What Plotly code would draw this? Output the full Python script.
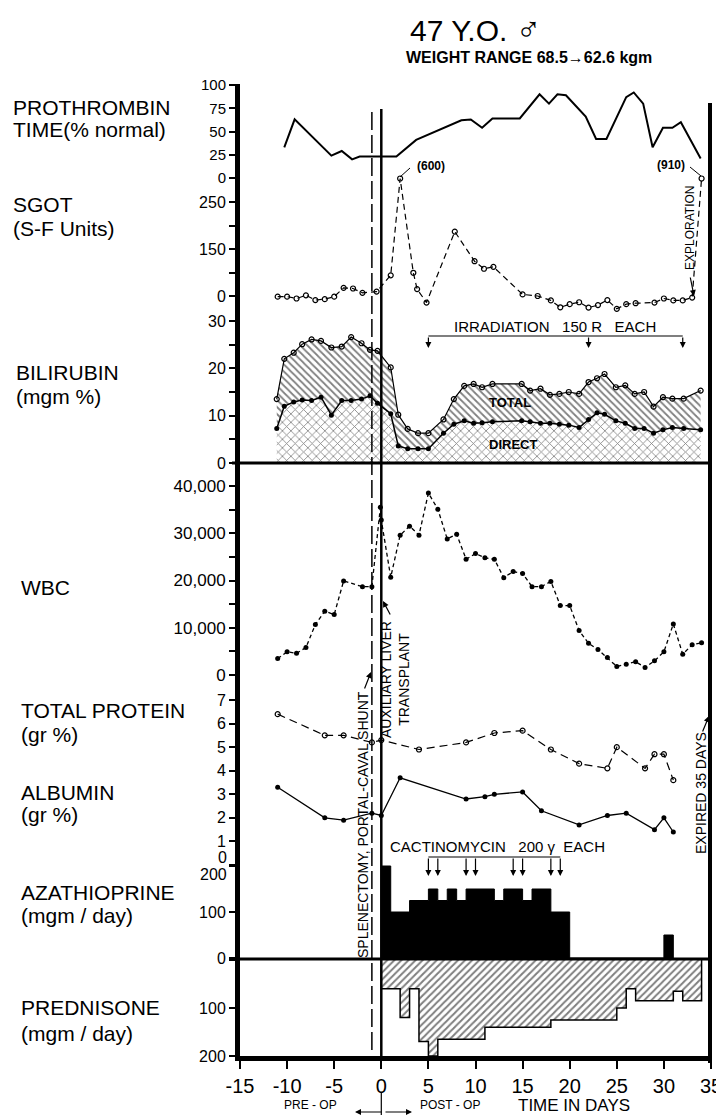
import plotly.graph_objects as go

# ---------------- data ----------------
x_ticks = [-15, -10, -5, 0, 5, 10, 15, 20, 25, 30, 35]
x_labels = ["-15", "-10", "-5", "0", "5", "10", "15", "20", "25", "30", "35"]

# Prothrombin time (% normal)
pt_day = [-10.3, -9.2, -5.3, -4.2, -3.1, -2.3, 1.6, 3.7, 8.5, 9.5, 10.7, 11.8, 14.7, 16.8,
          17.8, 18.7, 19.6, 21.7, 22.8, 23.9, 26.0, 26.8, 27.8, 28.8, 29.9, 30.9, 31.8, 33.9]
pt_val = [33, 63, 24, 29, 20, 23, 23, 41, 62, 63, 54, 64, 64, 90,
          80, 90, 89, 66, 42, 42, 87, 92, 80, 33, 54, 54, 60, 21]

# SGOT (S-F units) -- drawn on a broken scale, 600 and 910 shown at the top
sgot_day = [-11, -10, -9, -8, -7, -6, -5, -4, -3, -2, -0.5, 1, 2, 3.4, 3.8, 4.8, 7.8, 9.9,
            10.9, 11.9, 15, 16.6, 18, 19, 20, 21, 22, 23, 24, 25, 26, 27, 29, 30, 31, 32, 33, 34]
sgot_val = [-2, -2, -8, 2, -13, -10, -2, 26, 24, 10, 14, 66, 600, 74, 22, -21, 187, 111,
            87, 93, 5, 0, -14, -36, -26, -20, -37, -29, -13, -41, -26, -23, -21, -8, -14, -14, -5, 910]
sgot_ticks = [0, 1, 2, 3, 4]
sgot_labels = ["0", "", "150", "", "250"]

# Bilirubin (mgm %)
bili_day = [-11.1, -10.3, -9.3, -8.4, -7.4, -6.4, -5.3, -4.2, -3.2, -2.1, -1.2, -0.4, 1.0, 1.8,
            2.8, 3.9, 5.0, 6.6, 7.7, 8.8, 9.8, 10.7, 11.8, 14.9, 15.8, 16.9, 17.9, 18.9, 19.9,
            21.0, 22.0, 22.9, 23.7, 24.9, 25.9, 26.9, 27.9, 28.9, 29.9, 30.9, 32.1, 33.9]
bili_total = [13.5, 22.0, 23.3, 25.1, 26.1, 25.8, 24.4, 24.6, 26.6, 25.3, 23.9, 23.7, 20.2, 10.2,
              7.2, 6.3, 6.3, 9.2, 13.5, 16.3, 16.7, 16.0, 16.7, 16.7, 15.3, 15.7, 14.4, 14.6, 15.0,
              14.6, 17.1, 17.9, 18.8, 16.0, 16.4, 14.6, 15.0, 11.9, 13.9, 13.6, 13.6, 15.3]
bili_direct = [7.3, 12.0, 12.9, 13.3, 13.2, 13.9, 10.1, 13.2, 13.2, 13.5, 14.2, 12.6, 10.4, 3.6,
               3.0, 3.0, 3.0, 6.3, 8.2, 8.9, 8.4, 8.5, 8.7, 8.9, 8.7, 8.4, 8.4, 8.2, 8.0,
               7.5, 9.2, 10.6, 10.3, 8.9, 8.4, 7.3, 7.3, 6.3, 7.0, 7.5, 7.3, 7.0]

# WBC
wbc_day = [-11, -10, -9, -8, -7, -6, -5, -4, -2, -1, -0.1, 0, 1, 2, 3, 4, 5, 6, 7, 8, 9, 10,
           11, 12, 13, 14, 15, 16, 17, 18, 19, 20, 21, 22, 23, 24, 25, 26, 27, 28, 29, 30,
           31, 32, 33, 34]
wbc_val = [3500, 4900, 4600, 5800, 10700, 13500, 12800, 19900, 18700, 18700, 35500, 32800,
           20700, 29600, 31500, 29600, 38500, 35100, 28800, 29800, 24500, 25700, 24800, 24500,
           20600, 21900, 21500, 18700, 18700, 19800, 14700, 14700, 9400, 6700, 5400, 3700,
           1800, 2300, 2800, 1600, 3000, 4900, 10800, 4400, 6400, 6800]

# Total protein and albumin (gr %)
prot_day = [-11, -6, -4, -1, 0, 4, 9, 12, 15, 18, 21, 24, 25, 28, 29, 30, 31]
prot_val = [6.4, 5.5, 5.5, 5.2, 5.3, 4.9, 5.2, 5.6, 5.7, 4.9, 4.3, 4.1, 5.0, 4.1, 4.7, 4.7, 3.6]
alb_day = [-11, -6, -4, -1, 0, 2, 9, 11, 12, 15, 17, 21, 24, 26, 29, 30, 31]
alb_val = [3.3, 2.0, 1.9, 2.2, 2.1, 3.7, 2.8, 2.9, 3.0, 3.1, 2.3, 1.7, 2.1, 2.2, 1.5, 2.0, 1.4]

# Azathioprine (mgm/day), step changes
aza_day = [0, 0, 1, 3, 5, 6, 7, 8, 9, 12, 13, 15, 16, 18, 20, 30, 31]
aza_dose = [0, 200, 100, 125, 150, 125, 150, 125, 150, 125, 150, 125, 150, 100, 0, 50, 0]

# Prednisone (mgm/day), step changes
pred_day = [0, 0, 2, 3, 4, 5, 6, 11, 18, 25, 26, 27, 31, 32, 34]
pred_dose = [0, 60, 120, 60, 170, 200, 165, 140, 125, 100, 60, 85, 65, 85, 0]

irradiation_days = [5, 22, 32]
cactinomycin_days = [5, 6, 9, 10, 14, 15, 18, 19]
splenectomy_day = -1
transplant_day = 0


def sgot_axis(v):
    """Broken SGOT scale of the original: 0-150 over two ticks, 150-250 over two ticks,
    values above 250 compressed into the last tick (600 reaches the top)."""
    if v <= 150:
        return v / 75.0
    if v <= 250:
        return 2 + (v - 150) / 50.0
    return min(4 + (v - 250) / 350.0, 5)


# ---------------- geometry helpers (page pixel coordinates) ----------------
PAGE_W, PAGE_H = 724, 1117
OFF = 8                      # default body margin of the html page
FIG_W, FIG_H = PAGE_W - OFF, PAGE_H - OFF
L, R, T, B = 240, 711, 84, 1056
X0, X1 = -15, 35


def px2x(px):
    return (px - L) / (R - L)


def py2y(py):
    return (B - py) / (B - T)


def yax(v1, p1, v2, p2, ptop, pbot, tickvals, ticktext, size=16):
    s = (v2 - v1) / (p2 - p1)
    return dict(domain=[max(0, py2y(pbot)), min(1, py2y(ptop))],
                range=[v1 + (pbot - p1) * s, v1 + (ptop - p1) * s],
                anchor='x', tickvals=tickvals, ticktext=ticktext, automargin=False,
                showline=True, linewidth=5, linecolor='black',
                ticks='outside', ticklen=6, tickwidth=1.5, tickcolor='black',
                showgrid=False, zeroline=False,
                tickfont=dict(size=size, color='black'))


FONT = "Liberation Sans, Arial, sans-serif"
fig = go.Figure()

# Prothrombin
fig.add_trace(go.Scatter(x=pt_day, y=pt_val, yaxis='y', mode='lines',
                         line=dict(color='black', width=2)))
# SGOT
fig.add_trace(go.Scatter(x=sgot_day, y=[sgot_axis(v) for v in sgot_val], yaxis='y2',
                         mode='lines+markers', cliponaxis=False,
                         line=dict(color='black', width=1.2, dash='6px,4px'),
                         marker=dict(symbol='circle-open', size=5, color='black',
                                     line=dict(width=1.2))))
# Bilirubin direct then total
fig.add_trace(go.Scatter(x=bili_day, y=bili_direct, yaxis='y3', mode='lines+markers',
                         line=dict(color='black', width=1.5),
                         marker=dict(symbol='circle', size=5, color='black'),
                         fill='tozeroy', fillcolor='white',
                         fillpattern=dict(shape='x', size=6, solidity=0.25,
                                          fgcolor='black', bgcolor='white')))
fig.add_trace(go.Scatter(x=bili_day, y=bili_total, yaxis='y3', mode='lines+markers',
                         line=dict(color='black', width=1.2),
                         marker=dict(symbol='circle-open', size=5, color='black',
                                     line=dict(width=1.2)),
                         fill='tonexty', fillcolor='white',
                         fillpattern=dict(shape='\\', size=5, solidity=0.35,
                                          fgcolor='black', bgcolor='white')))
# WBC
fig.add_trace(go.Scatter(x=wbc_day, y=wbc_val, yaxis='y4', mode='lines+markers',
                         line=dict(color='black', width=1.3, dash='4px,3px'),
                         marker=dict(symbol='circle', size=5, color='black')))
# Protein / albumin
fig.add_trace(go.Scatter(x=prot_day, y=prot_val, yaxis='y5', mode='lines+markers',
                         line=dict(color='black', width=1.2, dash='8px,5px'),
                         marker=dict(symbol='circle-open', size=5, color='black',
                                     line=dict(width=1.2))))
fig.add_trace(go.Scatter(x=alb_day, y=alb_val, yaxis='y5', mode='lines+markers',
                         line=dict(color='black', width=1.3),
                         marker=dict(symbol='circle', size=5, color='black')))
# Azathioprine
fig.add_trace(go.Scatter(x=aza_day, y=aza_dose, yaxis='y6', mode='lines',
                         line=dict(color='black', width=1, shape='hv'),
                         fill='tozeroy', fillcolor='black'))
# Prednisone
fig.add_trace(go.Scatter(x=pred_day, y=pred_dose, yaxis='y7', mode='lines',
                         line=dict(color='black', width=1.5, shape='hv'),
                         fill='tozeroy', fillcolor='white',
                         fillpattern=dict(shape='/', size=5, solidity=0.4,
                                          fgcolor='black', bgcolor='white')))

shapes = []
annots = []


def line(x0, y0, x1, y1, width=1.2, dash=None, xref='paper'):
    d = dict(type='line', xref=xref, yref='paper', x0=x0, x1=x1, y0=y0, y1=y1,
             line=dict(color='black', width=width))
    if dash:
        d['line']['dash'] = dash
    shapes.append(d)


def text(px, py, s, size, anchor='left', angle=0, bold=False):
    annots.append(dict(xref='paper', yref='paper', x=px2x(px), y=py2y(py),
                       text=('<b>%s</b>' % s) if bold else s, showarrow=False,
                       xanchor=anchor, yanchor='middle', textangle=angle,
                       font=dict(size=size, color='black', family=FONT)))


def arrow(hx, hy, tx, ty, xref='paper', head=2, width=1.2):
    annots.append(dict(xref=xref, yref='paper', x=hx, y=py2y(hy), text='',
                       showarrow=True, ax=tx, ay=ty, axref='pixel', ayref='pixel',
                       arrowhead=head, arrowsize=1, arrowwidth=width, arrowcolor='black',
                       standoff=0, startstandoff=0))


# surgery lines
line(splenectomy_day, py2y(1050), splenectomy_day, py2y(109), width=1.5,
     dash='18px,5px', xref='x')
line(transplant_day, py2y(1056), transplant_day, py2y(109), width=2.5, xref='x')
# right border and heavy separators
line(px2x(710), py2y(1063), px2x(710), py2y(103), width=4)
line(px2x(232), py2y(463), px2x(710), py2y(463), width=3)
line(px2x(232), py2y(959), px2x(710), py2y(959), width=3)

# irradiation bracket
line(irradiation_days[0], py2y(336), irradiation_days[-1], py2y(336), width=1.2, xref='x')
for d in irradiation_days:
    arrow(d, 348, 0, -12, xref='x')
text(555, 326, 'IRRADIATION   150 R   EACH', 15, anchor='center')

# cactinomycin bracket
line(cactinomycin_days[0], py2y(857), cactinomycin_days[-1], py2y(857), width=1.2, xref='x')
for d in cactinomycin_days:
    arrow(d, 876, 0, -19, xref='x')
text(497, 846, 'CACTINOMYCIN   200 γ  EACH', 15, anchor='center')

# bilirubin labels
text(510, 402, 'TOTAL', 13, anchor='center', bold=True)
text(513, 445, 'DIRECT', 13, anchor='center', bold=True)

# SGOT off-scale values
text(431, 166, '(600)', 12, anchor='center', bold=True)
line(px2x(400), py2y(177), px2x(410), py2y(168), width=1)
text(671, 165, '(910)', 12, anchor='center', bold=True)
line(px2x(690), py2y(167), px2x(701), py2y(176), width=1)

# rotated notes
text(363, 825, 'SPLENECTOMY, PORTAL-CAVAL SHUNT', 14, anchor='center', angle=-90)
arrow(px2x(371), 672, -7, 18)
text(395, 680, 'AUXILIARY LIVER<br>TRANSPLANT', 14, anchor='center', angle=-90)
arrow(px2x(383), 601, 8, 15)
text(690, 228, 'EXPLORATION', 12, anchor='center', angle=-90)
arrow(px2x(694), 296, -4, -20)
text(701, 793, 'EXPIRED 35 DAYS', 14, anchor='center', angle=-90)
arrow(px2x(709), 716, -7, 17)

# title
text(408, 29, "47 Y.O. <span style='font-size:34px'>♂</span>", 30)
text(404, 58, 'WEIGHT RANGE 68.5→62.6 kgm', 16, bold=True)

# panel labels
for px, py, s in [(11, 107, 'PROTHROMBIN'), (11, 130, 'TIME(% normal)'),
                  (11, 205, 'SGOT'), (11, 228, '(S-F Units)'),
                  (14, 372, 'BILIRUBIN'), (14, 396, '(mgm %)'),
                  (19, 587, 'WBC'),
                  (19, 710, 'TOTAL PROTEIN'), (19, 734, '(gr %)'),
                  (19, 792, 'ALBUMIN'), (19, 815, '(gr %)'),
                  (19, 892, 'AZATHIOPRINE'), (19, 915, '(mgm / day)'),
                  (19, 1007, 'PREDNISONE'), (19, 1033, '(mgm / day)')]:
    text(px, py, s, 21)

# stacked tick labels where two scales meet
text(229, 857, '0', 16, anchor='right')
text(229, 874, '200', 16, anchor='right')

# bottom captions
text(310, 1105, 'PRE - OP', 12, anchor='center')
text(450, 1105, 'POST - OP', 12, anchor='center')
text(574, 1105, 'TIME IN DAYS', 17, anchor='center')
line((transplant_day - X0) / (X1 - X0), py2y(1093), (transplant_day - X0) / (X1 - X0),
     py2y(1115), width=1.2)
arrow(px2x(355), 1112, 28, 0)
arrow(px2x(412), 1112, -28, 0)

fig.update_layout(
    width=FIG_W, height=FIG_H, autosize=False,
    margin=dict(l=L - OFF, r=PAGE_W - R, t=T - OFF, b=PAGE_H - B),
    paper_bgcolor='white', plot_bgcolor='white',
    showlegend=False,
    font=dict(family=FONT, color='black'),
    xaxis=dict(domain=[0, 1], range=[X0, X1], anchor='y7', automargin=False,
               tickvals=x_ticks, ticktext=x_labels,
               showline=True, linewidth=5, linecolor='black',
               ticks='outside', ticklen=8, tickwidth=2, tickcolor='black',
               showgrid=False, zeroline=False, tickfont=dict(size=20, color='black')),
    yaxis=yax(0, 178, 100, 85, 84, 178, [0, 25, 50, 75, 100],
              ["0", "25", "50", "75", "100"], size=15),
    yaxis2=yax(0, 296, 4, 202, 178, 320.5, sgot_ticks, sgot_labels),
    yaxis3=yax(0, 463, 30, 321, 320.5, 463, [0, 5, 10, 15, 20, 25, 30],
               ["0", "", "10", "", "20", "", "30"]),
    yaxis4=yax(0, 675, 40000, 486, 463, 690,
               [0, 5000, 10000, 15000, 20000, 25000, 30000, 35000, 40000],
               ["0", "", "10,000", "", "20,000", "", "30,000", "", "40,000"], size=17),
    yaxis5=yax(0, 865, 7, 700, 690, 866, [0, 1, 2, 3, 4, 5, 6, 7],
               ["", "1", "2", "3", "4", "5", "6", "7"]),
    yaxis6=yax(0, 958, 200, 866, 861, 959, [0, 100, 200], ["0", "100", ""]),
    yaxis7=yax(0, 960, 200, 1056, 959, 1056, [0, 100, 200], ["", "100", "200"]),
    shapes=shapes,
    annotations=annots,
)

fig.write_html("out.html")
